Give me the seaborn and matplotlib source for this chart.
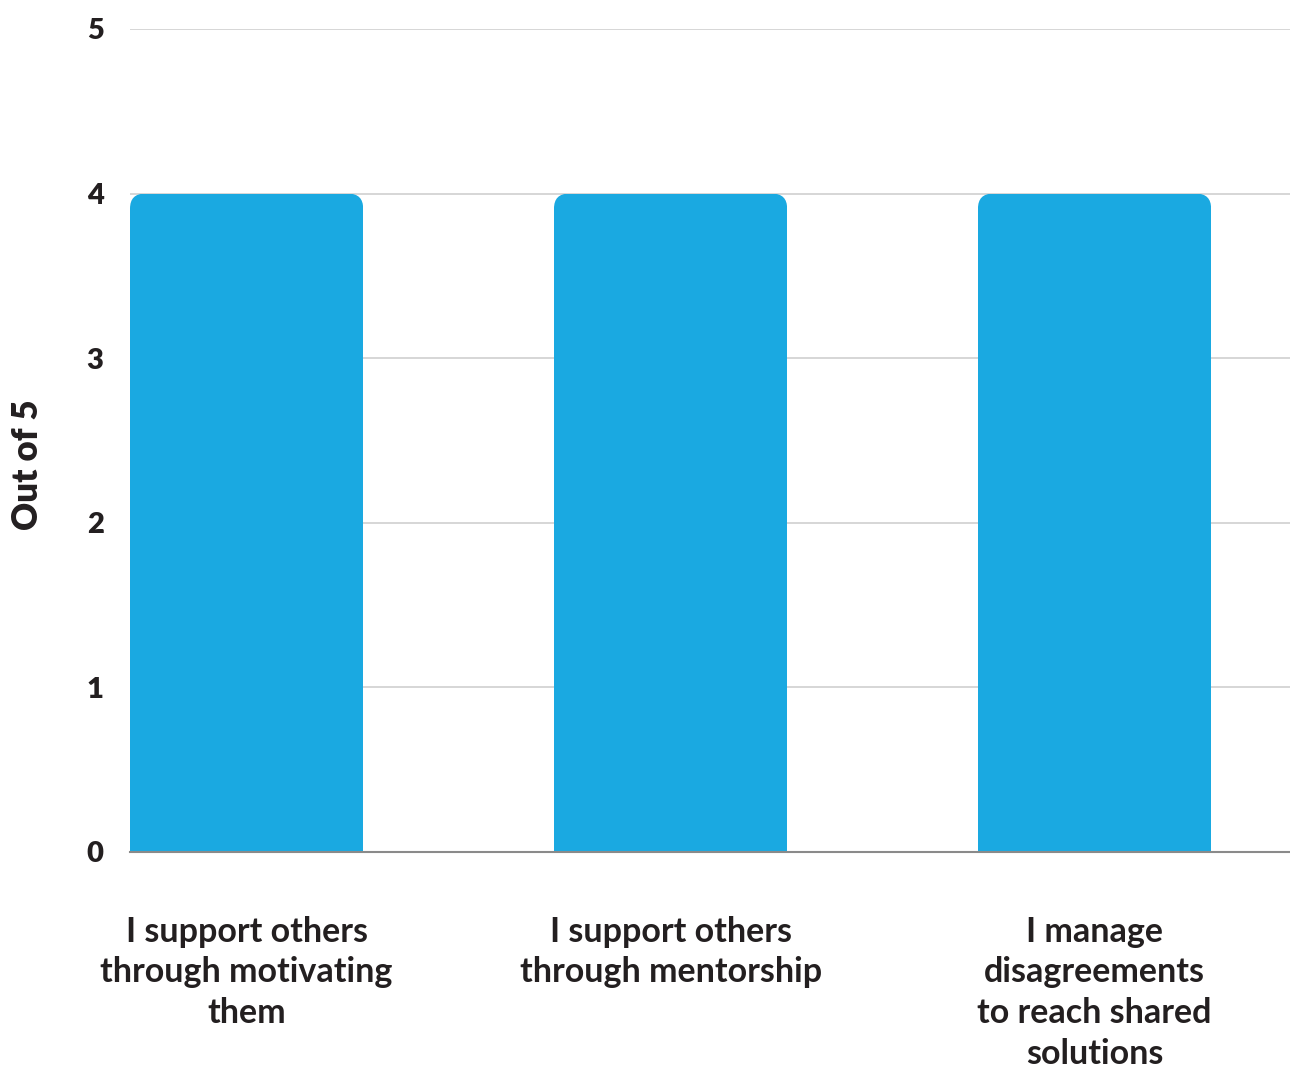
import matplotlib
matplotlib.use("Agg")
import matplotlib.pyplot as plt
from matplotlib.patches import FancyBboxPatch
import seaborn as sns
import pandas as pd

# Survey statements and their scores (out of 5)
statements = [
    "I support others\nthrough motivating\nthem",
    "I support others\nthrough mentorship",
    "I manage\ndisagreements\nto reach shared\nsolutions",
]
scores = [4, 4, 4]
y_ticks = [0, 1, 2, 3, 4, 5]

BAR_COLOR = "#1AA9E1"
TEXT_COLOR = "#231F20"

sns.set_theme(style="white")
plt.rcParams["font.family"] = ["Lato", "DejaVu Sans"]

df = pd.DataFrame({"statement": statements, "score": scores})

fig = plt.figure(figsize=(12.9, 10.71), dpi=100)
ax = fig.add_axes([130 / 1290, 1 - 852 / 1071, 1 - 130 / 1290, (852 - 29) / 1071])

sns.barplot(data=df, x="statement", y="score", color=BAR_COLOR,
            width=0.55, saturation=1, ax=ax, zorder=3)

ax.set_xlim(-0.275, 2.461)
ax.set_ylim(0, 5)
ax.set_yticks(y_ticks)
ax.set_yticklabels([str(t) for t in y_ticks])

# Round the top corners of each bar via a rounded clip box
px_x = 424.0   # pixels per x unit
px_y = 823.0 / 5  # pixels per y unit
radius_px = 15
for bar in ax.patches:
    x0 = bar.get_x()
    w = bar.get_width()
    h = bar.get_height()
    clip = FancyBboxPatch((x0, -1), w, h + 1,
                          boxstyle=f"round,pad=0,rounding_size={radius_px / px_x}",
                          mutation_aspect=px_x / px_y,
                          transform=ax.transData, facecolor="none", edgecolor="none")
    ax.add_patch(clip)
    clip.set_visible(False)
    bar.set_clip_path(clip)
    bar.set_edgecolor("none")

ax.yaxis.grid(True, color="#CCCCCC", linewidth=1.1, zorder=0)
ax.xaxis.grid(False)
for side in ["left", "right", "top"]:
    ax.spines[side].set_visible(False)
ax.spines["bottom"].set_color("#8A8A8A")
ax.spines["bottom"].set_linewidth(1.5)
ax.spines["bottom"].set_zorder(4)

ax.tick_params(axis="y", length=0, pad=19, labelsize=21, labelcolor=TEXT_COLOR)
ax.tick_params(axis="x", length=0, pad=46, labelsize=24.5, labelcolor=TEXT_COLOR)
for lbl in ax.get_yticklabels():
    lbl.set_fontweight("heavy")
for lbl in ax.get_xticklabels():
    lbl.set_fontweight("bold")
    lbl.set_linespacing(1.33)
    lbl.set_verticalalignment("top")

ax.set_xlabel("")
ax.set_ylabel("Out of 5", fontsize=25, fontweight="heavy", color=TEXT_COLOR)
ax.yaxis.label.set_verticalalignment("center")
ax.yaxis.set_label_coords((27 - 130) / 1160, (852 - 465) / 823)

fig.savefig("out.png", dpi=100, facecolor="white")
